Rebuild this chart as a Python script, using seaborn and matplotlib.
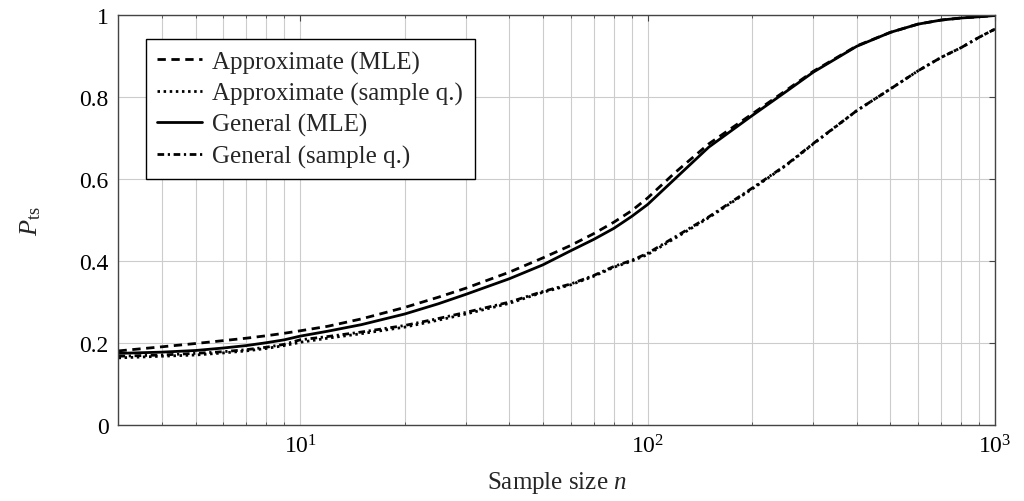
import numpy as np
import pandas as pd
import matplotlib
matplotlib.use("Agg")
import matplotlib.pyplot as plt
import seaborn as sns

# Sample sizes and success probabilities for the four estimators
sample_sizes = [3, 4, 5, 6, 7, 8, 9, 10, 12, 15, 20, 25, 30, 40, 50, 60, 70, 80, 90,
                100, 120, 150, 200, 250, 300, 400, 500, 600, 700, 800, 900, 1000]
approx_mle = [0.180, 0.190, 0.198, 0.205, 0.211, 0.217, 0.223, 0.229, 0.240, 0.258,
              0.286, 0.311, 0.333, 0.372, 0.407, 0.437, 0.466, 0.494, 0.522,
              0.553, 0.615, 0.685, 0.758, 0.815, 0.862, 0.924, 0.957, 0.977, 0.987,
              0.992, 0.995, 0.998]
approx_sq = [0.163, 0.167, 0.170, 0.175, 0.180, 0.186, 0.193, 0.201, 0.211, 0.222,
             0.238, 0.255, 0.270, 0.296, 0.323, 0.341, 0.362, 0.384, 0.399,
             0.415, 0.455, 0.505, 0.575, 0.632, 0.685, 0.766, 0.819, 0.863, 0.896,
             0.920, 0.945, 0.965]
general_mle = [0.174, 0.177, 0.181, 0.187, 0.193, 0.200, 0.207, 0.216, 0.228, 0.244,
               0.270, 0.295, 0.318, 0.356, 0.390, 0.424, 0.452, 0.479, 0.508,
               0.537, 0.600, 0.677, 0.754, 0.812, 0.860, 0.923, 0.957, 0.977, 0.987,
               0.992, 0.995, 0.998]
general_sq = [0.167, 0.170, 0.174, 0.178, 0.183, 0.189, 0.196, 0.207, 0.215, 0.226,
              0.242, 0.259, 0.274, 0.299, 0.325, 0.343, 0.364, 0.386, 0.401,
              0.418, 0.458, 0.507, 0.577, 0.633, 0.686, 0.766, 0.819, 0.863, 0.896,
              0.920, 0.945, 0.965]

series_labels = ["Approximate (MLE)", "Approximate (sample q.)",
                 "General (MLE)", "General (sample q.)"]
y_ticks = [0, 0.2, 0.4, 0.6, 0.8, 1]
y_tick_labels = ["0", "0.2", "0.4", "0.6", "0.8", "1"]

sns.set_theme(style="white")
plt.rcParams["font.family"] = ["Liberation Serif", "DejaVu Serif"]
plt.rcParams["mathtext.fontset"] = "custom"
plt.rcParams["mathtext.rm"] = "Liberation Serif"
plt.rcParams["mathtext.it"] = "Liberation Serif:italic"

fig = plt.figure(figsize=(10.24, 5.02), dpi=100)
ax = fig.add_axes([0.1157, 0.152, 0.856, 0.8167])

styles = [(0, (3, 2)), (0, (0.9, 1.3)), "-", (0, (2.4, 1.3, 0.8, 1.3))]
all_values = [approx_mle, approx_sq, general_mle, general_sq]

for label, values, ls in zip(series_labels, all_values, styles):
    df = pd.DataFrame({"n": sample_sizes, "p": values})
    sns.lineplot(data=df, x="n", y="p", ax=ax, color="black", linewidth=2.0,
                 label=label, linestyle=ls)

ax.set_xscale("log")
ax.set_xlim(3, 1000)
ax.set_ylim(0, 1)
ax.set_yticks(y_ticks)
ax.set_yticklabels(y_tick_labels)

ax.grid(True, which="both", axis="x", color="#cccccc", linewidth=0.8)
ax.grid(True, which="major", axis="y", color="#cccccc", linewidth=0.8)
ax.set_axisbelow(True)

for side in ["left", "right", "top", "bottom"]:
    ax.spines[side].set_visible(True)
    ax.spines[side].set_color("#444444")
    ax.spines[side].set_linewidth(1.0)

ax.tick_params(axis="both", which="major", direction="in", length=4,
               width=0.8, color="#444444", labelsize=17, top=True, right=True,
               labelcolor="black", pad=7)
ax.tick_params(axis="x", which="minor", direction="in", length=2.5,
               width=0.6, color="#444444", top=True, bottom=True)

ax.set_xlabel("Sample size $n$", fontsize=18, labelpad=8)
ax.set_ylabel(r"$P_{\mathrm{ts}}$", fontsize=19, labelpad=26)

leg = ax.legend(loc="upper left", bbox_to_anchor=(0.031, 0.94), fontsize=18,
                frameon=True, fancybox=False, framealpha=1, edgecolor="black",
                handlelength=1.8, handletextpad=0.42, labelspacing=0.33,
                borderpad=0.45, borderaxespad=0)
leg.get_frame().set_linewidth(1.0)

fig.savefig("out.png", dpi=100)
